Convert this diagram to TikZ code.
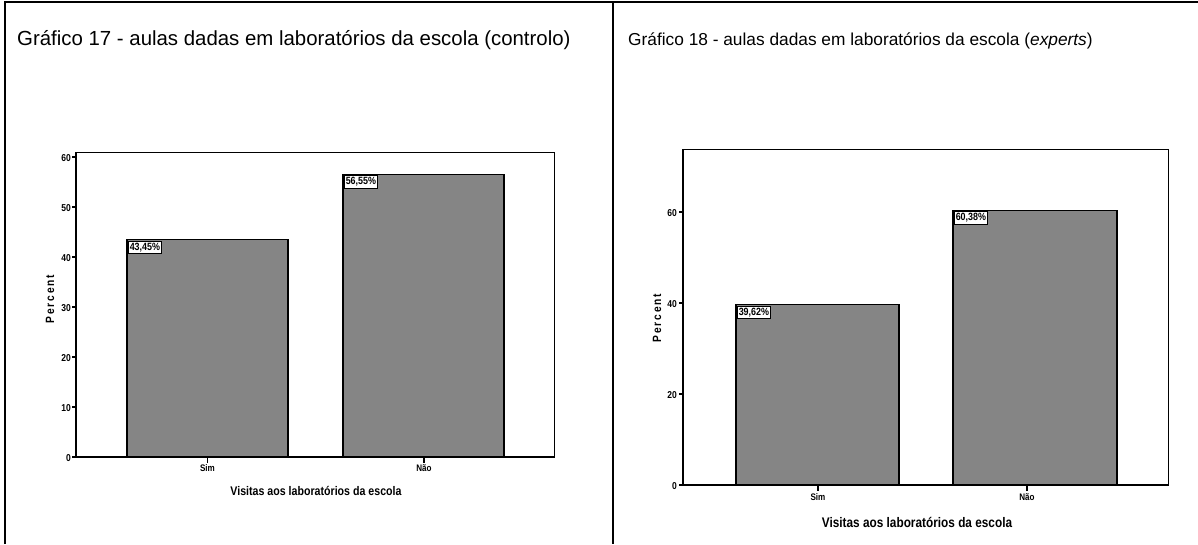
\documentclass[tikz,border=0pt]{standalone}
\usepackage{fontspec}
\setmainfont{Liberation Sans}
\newfontfamily\spssfont[FakeStretch=0.85]{Liberation Sans}
\tikzset{
  panel/.style={black, line width=2pt},
  plotframe/.style={black, line width=0.8pt},
  axisline/.style={black, line width=1.6pt},
  barbox/.style={draw=black, line width=1.4pt, fill=black!48},
  pctbox/.style={draw=black, fill=white, line width=0.9pt, inner sep=1.8pt, anchor=north west, font=\spssfont\bfseries\fontsize{10.5}{11}\selectfont},
  ticklab/.style={anchor=east, inner sep=0pt, font=\spssfont\bfseries\fontsize{10}{11}\selectfont},
  catlab/.style={anchor=north, inner sep=0pt, font=\spssfont\bfseries\fontsize{9.5}{10}\selectfont},
  axtitle/.style={inner sep=0pt, font=\spssfont\bfseries\fontsize{12.5}{14}\selectfont},
  ylab/.style={inner sep=0pt, rotate=90, font=\spssfont\bfseries\fontsize{12}{14}\selectfont\addfontfeature{LetterSpace=15}}
}
\begin{document}
\begin{tikzpicture}[x=1pt, y=-1pt]
\useasboundingbox (0,0) rectangle (1198,544);
\draw[panel] (5,544) -- (5,2) -- (1198,2);
\draw[panel] (613,2) -- (613,544);
\node[anchor=west, inner sep=0pt, font=\fontsize{20.4}{24}\selectfont] (t17) at (17,40) {Gráfico 17 - aulas dadas em laboratórios da escola (controlo)};
\node[anchor=west, inner sep=0pt, font=\fontsize{17.3}{21}\selectfont] (t18) at (628,41) {Gráfico 18 - aulas dadas em laboratórios da escola (\textit{experts})};
\draw[plotframe] (76,152) rectangle (554,457);
\draw[barbox] (127,457) rectangle (288,239.75);
\draw[barbox] (343,457) rectangle (504,174.25);
\node[pctbox] (p17a) at (127.5,240.5) {43,45\%};
\node[pctbox] (p17b) at (343.5,175) {56,55\%};
\draw[axisline] (76,152) -- (76,457) -- (554,457);
\draw[axisline] (72,457) -- (76,457);
\draw[axisline] (72,407) -- (76,407);
\draw[axisline] (72,357) -- (76,357);
\draw[axisline] (72,307) -- (76,307);
\draw[axisline] (72,257) -- (76,257);
\draw[axisline] (72,207) -- (76,207);
\draw[axisline] (72,157) -- (76,157);
\node[ticklab] (l17a) at (71,458) {0};
\node[ticklab] (l17b) at (71,408) {10};
\node[ticklab] (l17c) at (71,358) {20};
\node[ticklab] (l17d) at (71,308) {30};
\node[ticklab] (l17e) at (71,258) {40};
\node[ticklab] (l17f) at (71,208) {50};
\node[ticklab] (l17g) at (71,158) {60};
\draw[axisline] (207.5,457) -- (207.5,463);
\draw[axisline] (424,457) -- (424,463);
\node[catlab] (c17a) at (207.5,464.5) {Sim};
\node[catlab] (c17b) at (424,464.5) {Não};
\node[axtitle] (x17) at (316,491) {Visitas aos laboratórios da escola};
\node[ylab] (y17) at (50,299) {Percent};
\draw[plotframe] (683,149) rectangle (1168,485);
\draw[barbox] (736,485) rectangle (899,304.7);
\draw[barbox] (953,485) rectangle (1117,210.3);
\node[pctbox] (p18a) at (736.5,305.5) {39,62\%};
\node[pctbox] (p18b) at (953.5,211) {60,38\%};
\draw[axisline] (683,149) -- (683,485) -- (1168,485);
\draw[axisline] (679,485) -- (683,485);
\draw[axisline] (679,394) -- (683,394);
\draw[axisline] (679,303) -- (683,303);
\draw[axisline] (679,212) -- (683,212);
\node[ticklab] (l18a) at (677,486) {0};
\node[ticklab] (l18b) at (677,395) {20};
\node[ticklab] (l18c) at (677,304) {40};
\node[ticklab] (l18d) at (677,213) {60};
\draw[axisline] (818,485) -- (818,491);
\draw[axisline] (1027,485) -- (1027,491);
\node[catlab] (c18a) at (818,493) {Sim};
\node[catlab] (c18b) at (1027,493) {Não};
\node[axtitle, font=\spssfont\bfseries\fontsize{13.9}{15}\selectfont] (x18) at (917,522) {Visitas aos laboratórios da escola};
\node[ylab] (y18) at (657,318) {Percent};
\end{tikzpicture}
\end{document}
